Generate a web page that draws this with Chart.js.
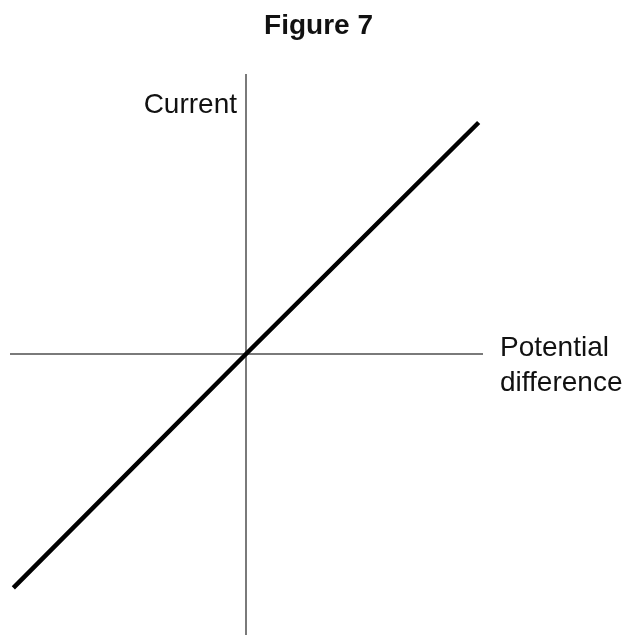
<!DOCTYPE html>
<html>
<head>
<meta charset="utf-8">
<script src="https://cdn.jsdelivr.net/npm/chart.js@4.4.1/dist/chart.umd.min.js"></script>
<style>
  html, body { margin: 0; padding: 0; background: #fff; }
  #wrap { width: 633px; height: 635px; }
</style>
</head>
<body>
<div id="wrap"><canvas id="graph"></canvas></div>
<script>
// I-V line through the origin (arbitrary units)
var voltage = [-0.99, 0, 0.99];
var current = [-0.995, 0, 0.985];

var figTitle = 'Figure 7';
var xLabel = ['Potential', 'difference'];
var yLabel = 'Current';

var points = voltage.map(function (v, i) { return { x: v, y: current[i] }; });

// title over the whole page + texts next to the axis ends
var axisLabels = {
  id: 'axisLabels',
  afterDraw: function (chart) {
    var ctx = chart.ctx;
    var xs = chart.scales.x, ys = chart.scales.y;
    var x0 = xs.getPixelForValue(0), y0 = ys.getPixelForValue(0);
    ctx.save();
    ctx.fillStyle = '#111';
    ctx.textBaseline = 'alphabetic';
    ctx.textAlign = 'center';
    ctx.font = 'bold 28px "Liberation Sans", Arial, sans-serif';
    ctx.fillText(figTitle, chart.width / 2 + 2, 34);
    ctx.font = '28px "Liberation Sans", Arial, sans-serif';
    ctx.textAlign = 'right';
    ctx.fillText(yLabel, x0 - 9, chart.chartArea.top + 38);
    ctx.textAlign = 'left';
    ctx.fillText(xLabel[0], chart.chartArea.right + 18, y0 + 2);
    ctx.fillText(xLabel[1], chart.chartArea.right + 18, y0 + 37);
    ctx.restore();
  }
};

new Chart(document.getElementById('graph'), {
  type: 'scatter',
  data: {
    datasets: [{
      data: points,
      showLine: true,
      borderColor: '#000',
      borderWidth: 4.5,
      pointRadius: 0,
      borderCapStyle: 'butt'
    }]
  },
  options: {
    responsive: true,
    maintainAspectRatio: false,
    animation: false,
    layout: { padding: { left: 11, right: 151, top: 75, bottom: 0 } },
    plugins: {
      legend: { display: false },
      tooltip: { enabled: false },
      title: { display: false }
    },
    scales: {
      x: {
        type: 'linear',
        min: -1,
        max: 236 / 235,
        position: { y: 0 },
        grid: { display: false, drawTicks: false },
        ticks: { display: false },
        border: { display: true, color: '#7a7a7a', width: 2 }
      },
      y: {
        type: 'linear',
        min: -281 / 235,
        max: 279 / 235,
        position: { x: 0 },
        grid: { display: false, drawTicks: false },
        ticks: { display: false },
        border: { display: true, color: '#7a7a7a', width: 2 }
      }
    }
  },
  plugins: [axisLabels]
});
</script>
</body>
</html>
